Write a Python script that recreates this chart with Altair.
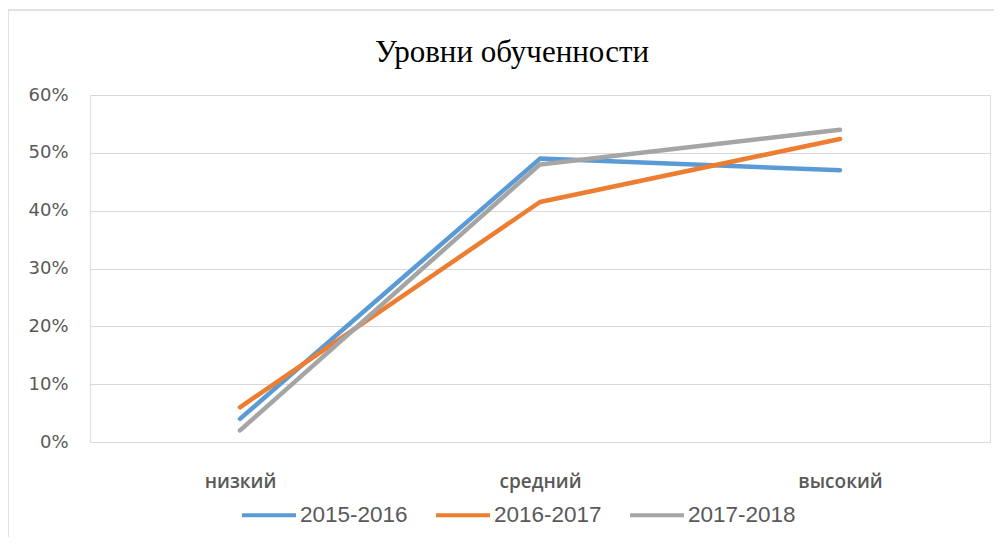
import altair as alt
import pandas as pd

categories = ["низкий", "средний", "высокий"]
series_names = ["2015-2016", "2016-2017", "2017-2018"]
s2015 = [0.04, 0.49, 0.47]
s2016 = [0.06, 0.415, 0.524]
s2017 = [0.02, 0.48, 0.54]
colors = ["#5B9BD5", "#ED7D31", "#A5A5A5"]
y_ticks = [0, 0.1, 0.2, 0.3, 0.4, 0.5, 0.6]

rows = []
for name, vals in zip(series_names, [s2015, s2016, s2017]):
    for c, v in zip(categories, vals):
        rows.append({"Уровень": c, "Год": name, "Доля": v})
df = pd.DataFrame(rows)

frame = alt.Chart(pd.DataFrame({"a": [0]})).mark_rect(
    fill="white", fillOpacity=0, stroke="#D9D9D9", strokeWidth=1.5, clip=False
).encode(
    x=alt.value(-82), x2=alt.value(925), y=alt.value(-85), y2=alt.value(470)
)

lines = alt.Chart(df).mark_line(strokeWidth=4.5, strokeCap="round", strokeJoin="round").encode(
    x=alt.X("Уровень:N", sort=categories, title=None,
            axis=alt.Axis(labelAngle=0, ticks=False, domain=False, labelPadding=30,
                          labelFontSize=19, labelFontWeight=600, labelColor="#595959",
                          labelFont="Open Sans")),
    y=alt.Y("Доля:Q", title=None, scale=alt.Scale(domain=[0, 0.6]),
            axis=alt.Axis(values=y_ticks, format=".0%", ticks=False, domain=False,
                          labelPadding=22, labelFontSize=18, labelColor="#595959",
                          labelFont="DejaVu Sans", gridColor="#D9D9D9", gridWidth=1)),
    color=alt.Color("Год:N", sort=series_names,
                    scale=alt.Scale(domain=series_names, range=colors),
                    legend=alt.Legend(title=None, orient="none", direction="horizontal",
                                      legendX=150, legendY=391, symbolType="stroke",
                                      symbolSize=2916, symbolStrokeWidth=4,
                                      labelFontSize=22.5, labelColor="#595959",
                                      labelFont="Liberation Sans", labelOffset=2,
                                      columnPadding=20)),
)

chart = alt.layer(frame, lines).properties(
    width=900, height=347,
    autosize=alt.AutoSizeParams(type="none"),
    padding={"left": 82, "top": 87, "right": 4, "bottom": 95},
    title=alt.TitleParams("Уровни обученности", font="Liberation Serif", fontSize=31,
                          fontWeight="normal", color="#000000", anchor="middle",
                          dx=-28, offset=-60),
).configure_view(stroke=None).configure(background="white")

chart.save("out.html", embed_options={"renderer": "svg", "actions": False})
